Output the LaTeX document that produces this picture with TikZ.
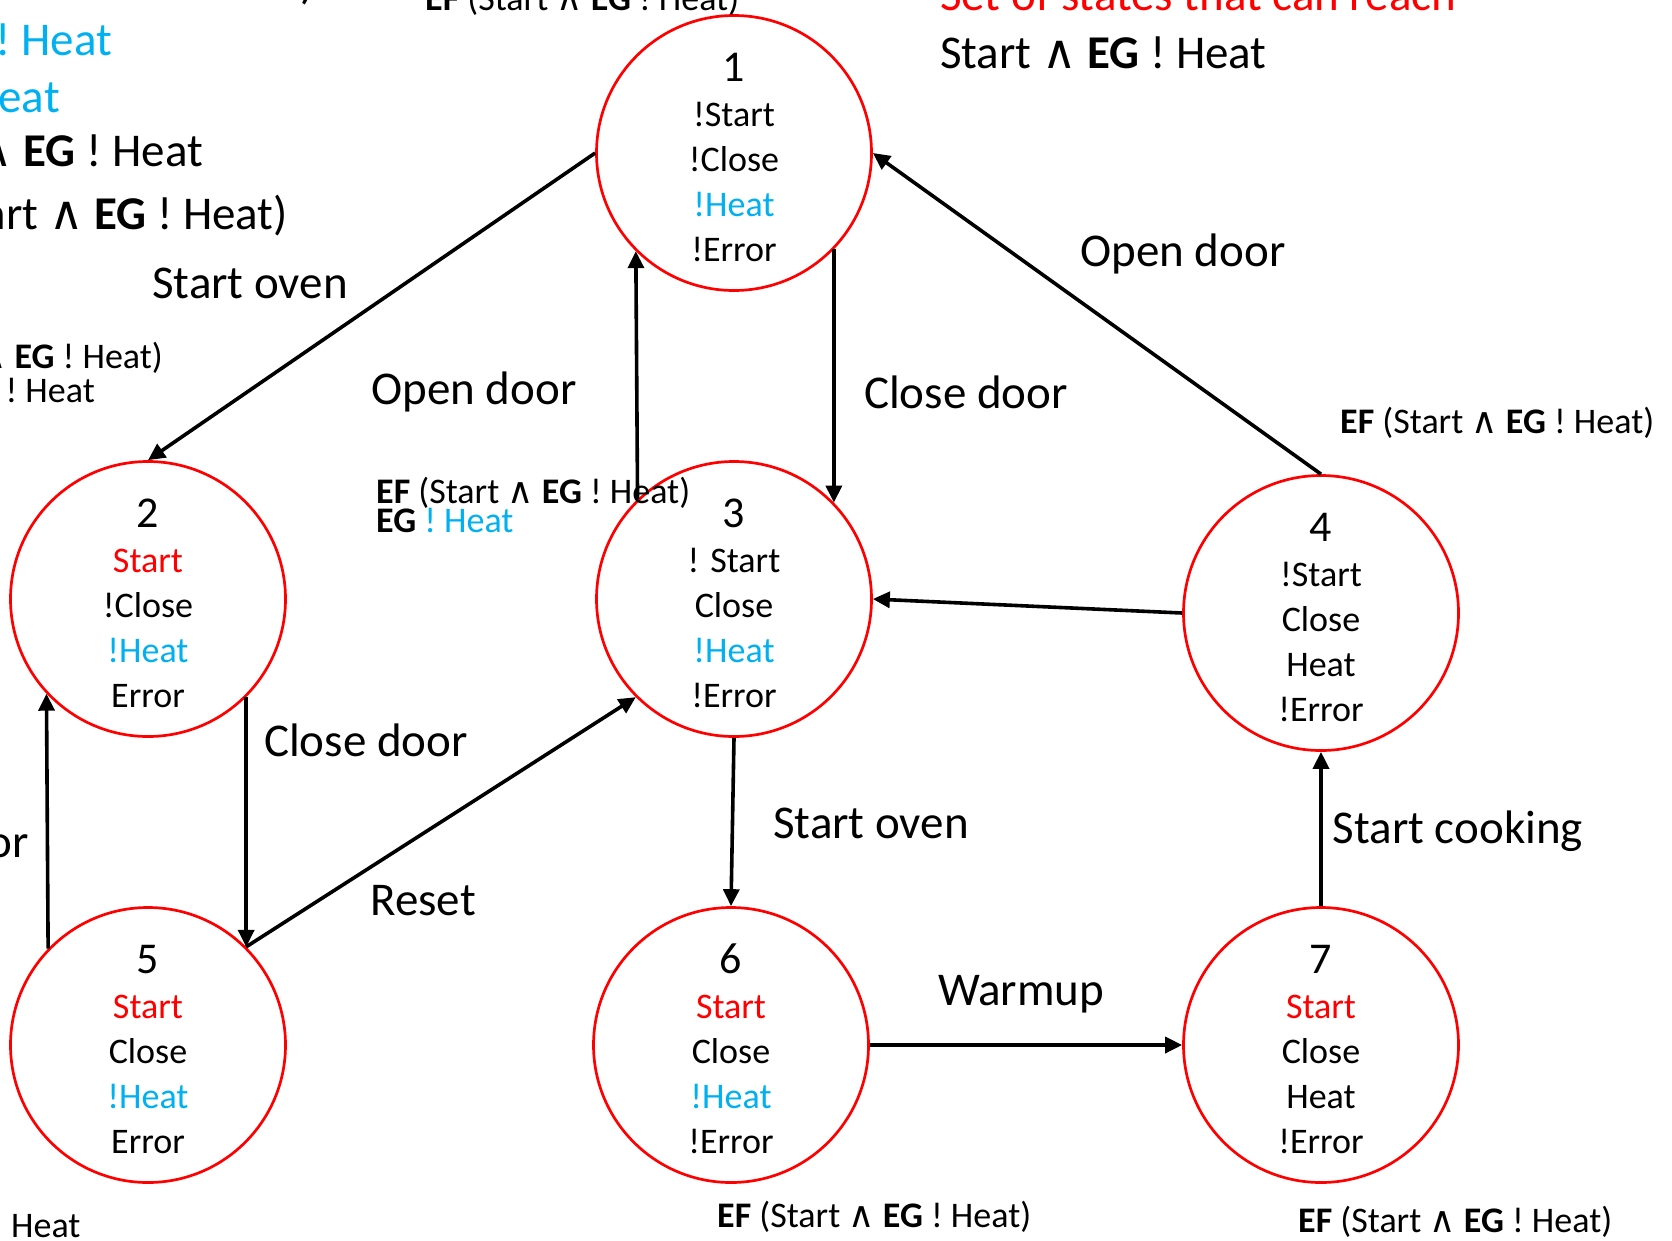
\documentclass[tikz,border=0pt]{standalone}
\usepackage{fontspec}
\setmainfont{Carlito}
\newfontfamily\wedgefont{DejaVu Sans}
\usetikzlibrary{arrows.meta,calc}
\definecolor{heatblue}{RGB}{0,176,240}
\definecolor{startred}{RGB}{255,0,0}
% state number line; the strut lowers the whole text block a little
\newcommand\statenum[1]{\rule{0pt}{37pt}{\fontsize{44}{45}\selectfont #1}}
\newcommand\logand{{\wedgefont ∧}}
\newcommand\efformula{\textbf{EF} (Start \logand{} \textbf{EG} ! Heat)}

\begin{document}
\begin{tikzpicture}[x=1pt,y=-1pt,
  state/.style={circle,draw=startred,line width=2.7pt,minimum size=275pt,
    inner sep=0pt,align=center,font=\fontsize{36}{45}\selectfont},
  edge/.style={line width=3.6pt,-{Triangle[length=17pt,width=16pt]}},
  biglabel/.style={font=\fontsize{47}{56}\selectfont,inner sep=0pt},
  smalllabel/.style={font=\fontsize{36}{40}\selectfont,inner sep=0pt},
]
\useasboundingbox (0,0) rectangle (1672,1240);
\clip (0,0) rectangle (1672,1240);

% states
\node[state] (s1) at (734,153)  {\statenum{1}\\!Start\\!Close\\\textcolor{heatblue}{!Heat}\\!Error};
\node[state] (s2) at (148,599)  {\statenum{2}\\\textcolor{startred}{Start}\\!Close\\\textcolor{heatblue}{!Heat}\\Error};
\node[state] (s3) at (734,599)  {\statenum{3}\\! Start\\Close\\\textcolor{heatblue}{!Heat}\\!Error};
\node[state] (s4) at (1321,613) {\statenum{4}\\!Start\\Close\\Heat\\!Error};
\node[state] (s5) at (148,1045) {\statenum{5}\\\textcolor{startred}{Start}\\Close\\\textcolor{heatblue}{!Heat}\\Error};
\node[state] (s6) at (731,1045) {\statenum{6}\\\textcolor{startred}{Start}\\Close\\\textcolor{heatblue}{!Heat}\\!Error};
\node[state] (s7) at (1321,1045){\statenum{7}\\\textcolor{startred}{Start}\\Close\\Heat\\!Error};

% transitions
\draw[edge] (s1.west) -- (s2.north);
\draw[edge] (s3.134.3) -- (s1.225.7);
\draw[edge] (s1.-44.1) -- (s3.44.1);
\draw[edge] (s4.north) -- (s1.east);
\draw[edge] (s4.west) -- (s3.east);
\draw[edge] (s2.-45.7) -- (s5.45.7);
\draw[edge] (s5.136.1) -- (s2.223.9);
\draw[edge] (s5.45.7) -- (s3.225.7);
\draw[edge] (s3.south) -- (s6.north);
\draw[edge] (s6.east) -- (s7.west);
\draw[edge] (s7.north) -- (s4.south);

% transition labels
\node[biglabel] (l12) at (250,283)  {Start oven};
\node[biglabel] (l31) at (474,392)  {Open door};
\node[biglabel] (l13) at (966,392)  {Close door};
\node[biglabel] (l41) at (1183,254) {Open door};
\node[biglabel] (l25) at (366,740)  {Close door};
\node[biglabel] (l36) at (871,823)  {Start oven};
\node[biglabel] (l74) at (1458,831) {Start cooking};
\node[biglabel] (l53) at (423,901)  {Reset};
\node[biglabel] (l67) at (1021,994) {Warmup};
\node[biglabel,anchor=east] (l52) at (29,845) {Open door};

% formula annotations
\node[smalllabel,anchor=base west] (f4) at (1340,433)  {\efformula};
\node[smalllabel,anchor=base west] (f3a) at (376,503)  {\efformula};
\node[smalllabel,anchor=base west] (f3b) at (376,532)  {\textbf{EG} \textcolor{heatblue}{! Heat}};
\node[smalllabel,anchor=base west] (f6) at (717,1227)  {\efformula};
\node[smalllabel,anchor=base west] (f7) at (1298,1232) {\efformula};
\node[smalllabel,anchor=base west] (ftop) at (425,10)  {\efformula};
\node[smalllabel,anchor=base east] (fl1) at (163,368)  {\efformula};
\node[smalllabel,anchor=base east] (fl2) at (95,402)   {\textbf{EG} ! Heat};
\node[smalllabel,anchor=base west] (fl3) at (11,1237)  {Heat};

% state-set headings
\node[biglabel,anchor=base west,text=startred] (hset) at (940,10) {Set of states that can reach};
\node[biglabel,anchor=base west] (hgoal) at (940,68) {Start \logand{} \textbf{EG} ! Heat};

\node[biglabel,anchor=base east] (t0) at (315,-2)  {\efformula};
\node[biglabel,anchor=base east] (t1) at (112,55)  {\textbf{EG} \textcolor{heatblue}{! Heat}};
\node[biglabel,anchor=base east] (t2) at (60,112)  {\textcolor{heatblue}{! Heat}};
\node[biglabel,anchor=base east] (t3) at (203,166) {Start \logand{} \textbf{EG} ! Heat};
\node[biglabel,anchor=base east] (t4) at (288,229) {\efformula};
\end{tikzpicture}
\end{document}
